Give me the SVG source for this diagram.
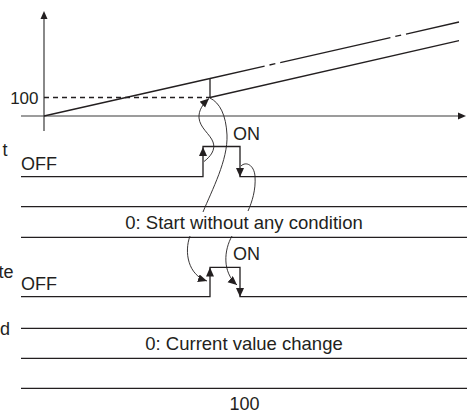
<svg xmlns="http://www.w3.org/2000/svg" width="470" height="417" viewBox="0 0 470 417">
<style>
.ln{stroke:#231f20;stroke-width:1.3;fill:none}
.ax{stroke:#3a3a3a;stroke-width:1.2;fill:none}
.cv{stroke:#231f20;stroke-width:0.9;fill:none}
.tri{fill:#231f20}
text{font-family:"Liberation Sans",Arial,sans-serif;font-size:18px;fill:#231f20}
.big{font-size:18.5px}
</style>
<defs>
<marker id="ah" markerUnits="userSpaceOnUse" markerWidth="10" markerHeight="9" refX="9" refY="4" orient="auto">
<path d="M0,0 L9,4 L0,8 Z" fill="#231f20"/>
</marker>
<path id="up" d="M0,0 L4,9 L-4,9 Z"/>
<path id="dn" d="M0,0 L4,-9 L-4,-9 Z"/>
</defs>

<g id="graph">
<line class="ax" x1="44" y1="131" x2="44" y2="16"/>
<path class="tri" d="M44,11 L40.5,19 L47.5,19 Z"/>
<line class="ax" x1="21" y1="116" x2="461" y2="116"/>
<path class="tri" d="M466,116 L458,112.5 L458,119.5 Z"/>
<line class="ln" x1="44" y1="116" x2="210" y2="78.5"/>
<line class="ln" x1="210" y1="78.5" x2="459" y2="22" stroke-dasharray="113 5 6 5" stroke-dashoffset="57"/>
<line class="ln" x1="210" y1="97.5" x2="459" y2="40.7"/>
<line class="ln" x1="210" y1="78.5" x2="210" y2="97.5"/>
<line class="ln" x1="44" y1="97.5" x2="210" y2="97.5" stroke-dasharray="5 4" stroke-width="1"/>
<text x="38.5" y="103.5" text-anchor="end" style="font-size:17px">100</text>
</g>

<g id="start-signal">
<text x="7.5" y="156" text-anchor="end">t</text>
<text x="21" y="170">OFF</text>
<text x="233" y="140">ON</text>
<path class="ln" d="M21,176.7 H203 V146.5 H240 V176.7 H467"/>
<use href="#up" x="203" y="147" class="tri"/>
<use href="#dn" x="240" y="177" class="tri"/>
</g>

<g id="start-condition">
<line class="ln" x1="21" y1="206.7" x2="467" y2="206.7"/>
<line class="ln" x1="21" y1="237.3" x2="467" y2="237.3"/>
<text class="big" x="244" y="229" text-anchor="middle">0: Start without any condition</text>
</g>

<g id="complete-signal">
<text x="13.5" y="277.5" text-anchor="end">te</text>
<text x="21" y="289.5">OFF</text>
<text x="233" y="260">ON</text>
<path class="ln" d="M21,296.7 H210 V267.3 H240 V296.7 H467"/>
<use href="#up" x="210" y="267.5" class="tri"/>
<use href="#dn" x="240" y="297" class="tri"/>
</g>

<g id="speed-change">
<text x="0" y="335">d</text>
<line class="ln" x1="21" y1="328.3" x2="467" y2="328.3"/>
<line class="ln" x1="21" y1="358.3" x2="467" y2="358.3"/>
<text class="big" x="244" y="350" text-anchor="middle">0: Current value change</text>
</g>

<g id="value">
<line class="ln" x1="21" y1="388.3" x2="467" y2="388.3"/>
<text x="244.5" y="410" text-anchor="middle">100</text>
</g>

<g id="connectors">
<path class="cv" d="M204,161.5 C210,157 216,150 213,142 C210,134 200,128 199,118 C198.5,110 203,104 209,98.5" marker-end="url(#ah)"/>
<path class="cv" d="M210,98 C220,103 226,115 227,135 C228,160 212,190 203,212"/>
<path class="cv" d="M241,166 C246,161 254,165 255,176 C256,190 252,202 248,211"/>
<path class="cv" d="M190,236 C184,252 188,275 207,281" marker-end="url(#ah)"/>
<path class="cv" d="M232,236 C224,250 222,272 237,285" marker-end="url(#ah)"/>
</g>
</svg>
